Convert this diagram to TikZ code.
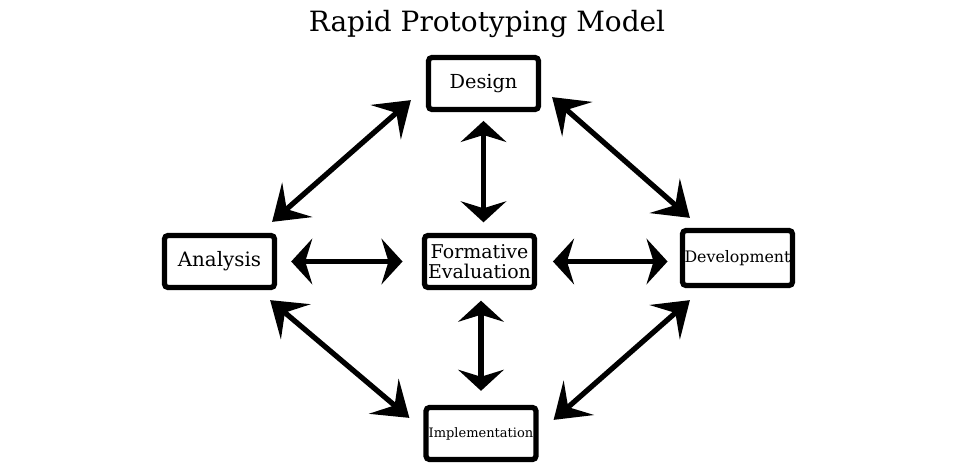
\documentclass[tikz,border=0pt]{standalone}
\usepackage{fontspec}
\setmainfont{DejaVu Serif}
\usetikzlibrary{arrows.meta,positioning,calc}

\begin{document}
\begin{tikzpicture}[x=0.02cm,y=-0.02cm,
  stage/.style={draw,line width=3pt,rounded corners=2pt,minimum width=2.2cm,
    minimum height=1.04cm,inner sep=1pt,align=center},
  diag/.style={line width=3pt,
    {Stealth[length=19pt,width=26pt,inset=8pt]}-{Stealth[length=19pt,width=26pt,inset=8pt]}},
  flat/.style={line width=3pt,
    {Stealth[length=12pt,width=26pt,inset=4pt]}-{Stealth[length=12pt,width=26pt,inset=4pt]}}]
\useasboundingbox (0,0) rectangle (960,470);

\node (title) at (487,24) {\fontsize{15.9}{19}\selectfont Rapid Prototyping Model};

\node[stage,font=\fontsize{11}{13}\selectfont] (des) at (483.5,83.5) {Design};
\node[stage,font=\fontsize{11.3}{13}\selectfont] (ana) at (219.5,261.5) {Analysis};
\node[stage,font=\fontsize{10.8}{12}\selectfont] (for) at (479.5,261.5) {Formative\\[-1pt]Evaluation};
\node[stage,font=\fontsize{9}{11}\selectfont,minimum height=1.1cm] (dev) at (737.5,258) {Development};
\node[stage,font=\fontsize{7.4}{9}\selectfont] (imp) at (481,433.5) {Implementation};

% outer ring
\draw[diag] ([shift={(-5,-11)}]ana.north east) -- ([shift={(-15,-12)}]des.south west);
\draw[diag] ([shift={(11,-15)}]des.south east) -- ([shift={(10,-10)}]dev.north west);
\draw[diag] ([shift={(-7,10)}]ana.south east) -- ([shift={(-14,13)}]imp.north west);
\draw[diag] ([shift={(10,12)}]dev.south west) -- ([shift={(15,15)}]imp.north east);

% to the centre
\draw[flat] ([yshift=-5pt]des.south) -- ([yshift=6pt]des.south |- for.north);
\draw[flat] ([yshift=8pt]imp.north) -- ([yshift=-6pt]imp.north |- for.south);
\draw[flat] ([xshift=8pt]ana.east) -- ([xshift=-11pt]for.west);
\draw[flat] ([xshift=9pt]for.east) -- ([xshift=-7pt]for.east -| dev.west);
\end{tikzpicture}
\end{document}
